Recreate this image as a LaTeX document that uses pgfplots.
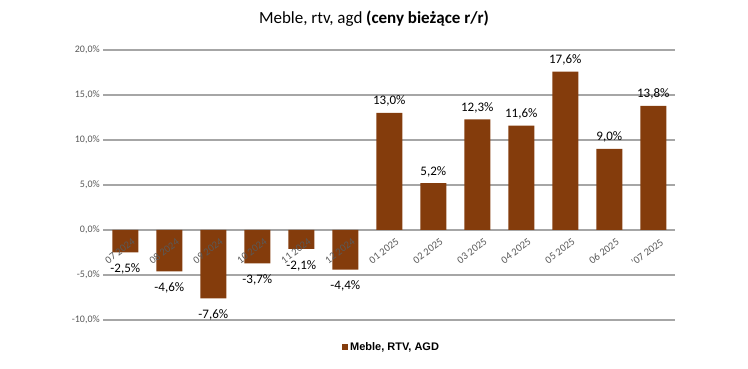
\documentclass[border=0pt]{standalone}
\usepackage{pgfplots}
\pgfplotsset{compat=1.18}
\usepackage{fontspec}
\setmainfont{Carlito}
\newfontfamily\legfont{Liberation Sans}
\definecolor{barbrown}{HTML}{843C0C}
\definecolor{tickgray}{HTML}{595959}
\definecolor{gridgray}{HTML}{A6A6A6}
\pgfplotstableread{
x y
0 -2.5
1 -4.6
2 -7.6
3 -3.7
4 -2.1
5 -4.4
6 13.0
7 5.2
8 12.3
9 11.6
10 17.6
11 9.0
12 13.8
}\datatable
\pgfplotsset{
  mybase/.style={
    at={(103.3pt,49pt)}, anchor=south west,
    scale only axis, width=572pt, height=270pt,
    xmin=-0.5, xmax=12.5, ymin=-10, ymax=20,
    major tick length=0pt,
    axis line style={draw=none},
    ybar, bar width=26pt,
  }
}
\begin{document}
\begin{tikzpicture}[x=1pt,y=1pt]
\useasboundingbox (0,0) rectangle (748,369);
\node[font=\fontsize{17}{20}\selectfont, anchor=center] at (374,350) {Meble, rtv, agd \textbf{(ceny bieżące r/r)}};
\begin{axis}[
  mybase,
  ytick={-10,-5,0,5,10,15,20},
  yticklabel={\pgfmathprintnumber[fixed,fixed zerofill,precision=1,use comma]{\tick}\%},
  /pgf/number format/assume math mode=true,
  yticklabel style={font=\fontsize{10}{12}\selectfont, text=tickgray},
  xtick=\empty,
  ymajorgrids, grid style={gridgray, line width=1.2pt},
  legend style={at={(0.504,-0.1)}, anchor=center, draw=none, font=\legfont\bfseries\fontsize{11}{13}\selectfont},
  legend image code/.code={\fill[barbrown] (0pt,-3pt) rectangle (6pt,3pt);},
]
\addplot[fill=barbrown, draw=none] table[x=x,y=y] {\datatable};
\addlegendentry{Meble, RTV, AGD}
\end{axis}
\begin{axis}[
  mybase,
  ytick=\empty,
  xtick={0,...,12},
  xticklabels={07 2024,08 2024,09 2024,10 2024,11 2024,12 2024,01 2025,02 2025,03 2025,04 2025,05 2025,06 2025,'07 2025},
  xticklabel style={yshift=87pt, xshift=7pt, rotate=37, anchor=north east, font=\fontsize{10.5}{12}\selectfont, text=tickgray},
  /pgf/number format/assume math mode=true,
  visualization depends on={rawy \as \rawy},
  nodes near coords={\pgfmathprintnumber[fixed,fixed zerofill,precision=1,use comma]{\pgfplotspointmeta}\%},
  every node near coord/.append style={font=\fontsize{13}{15}\selectfont, text=black, yshift={ifthenelse(\rawy<0,-8,3)}},
]
\addplot[draw=none, fill=none] table[x=x,y=y] {\datatable};
\end{axis}
\end{tikzpicture}
\end{document}
